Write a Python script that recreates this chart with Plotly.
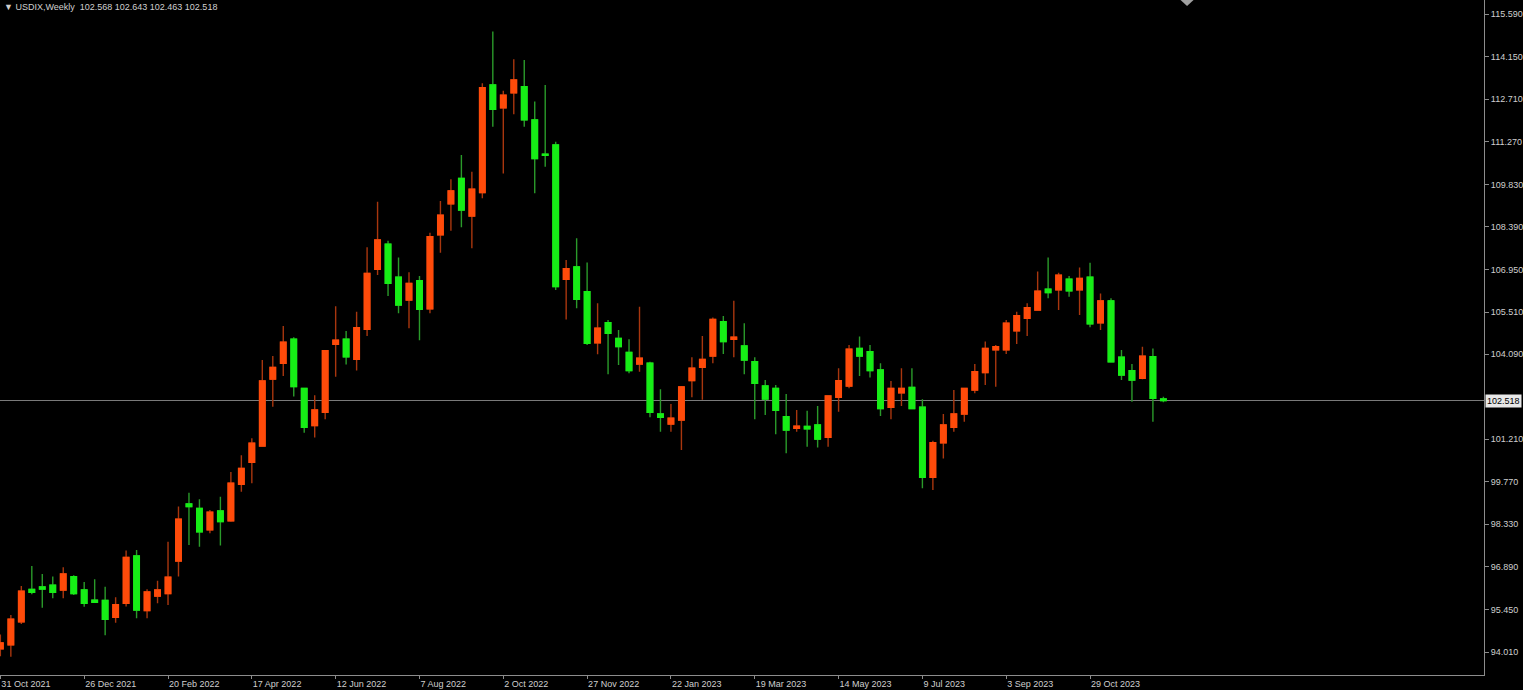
import plotly.graph_objects as go
import pandas as pd

# Weekly OHLC, USDIX (week starting 31 Oct 2021 ... 17 Dec 2023)
open_ = [94.12, 94.25, 95.03, 96.13, 96.21, 96.27, 96.11, 96.56, 96.11, 95.76,
         95.75, 95.18, 95.66, 97.26, 95.41, 95.90, 95.99, 97.09, 99.02, 98.87,
         98.14, 98.78, 98.45, 99.68, 100.43, 100.98, 103.24, 103.78, 104.59, 102.93,
         101.67, 102.12, 104.42, 104.59, 103.91, 104.93, 106.96, 107.81, 106.69, 105.92,
         106.57, 105.62, 108.12, 109.17, 110.03, 108.76, 109.55, 113.19, 112.42, 112.93,
         113.13, 112.01, 110.85, 111.16, 106.62, 107.04, 106.20, 104.47, 105.15, 104.62,
         104.14, 103.75, 103.78, 102.06, 101.72, 101.86, 103.19, 103.64, 104.02, 105.18,
         104.59, 104.36, 103.83, 103.01, 102.93, 101.97, 101.58, 101.64, 101.69, 101.27,
         102.63, 103.01, 104.28, 104.17, 103.55, 102.29, 102.78, 102.96, 102.29, 99.92,
         101.09, 101.61, 102.06, 102.87, 103.46, 104.23, 104.23, 104.88, 105.30, 105.58,
         106.28, 106.26, 106.62, 106.26, 106.69, 105.15, 105.89, 103.98, 103.53, 103.27,
         104.00, 102.568]
high = [94.60, 95.26, 96.24, 96.92, 96.65, 96.56, 96.88, 96.61, 96.38, 96.47,
        96.22, 95.86, 97.44, 97.46, 96.13, 96.42, 97.74, 98.93, 99.40, 99.18,
        98.81, 99.26, 100.10, 100.67, 101.24, 103.89, 104.02, 105.04, 104.66, 102.93,
        102.70, 104.23, 105.71, 104.87, 105.52, 107.70, 109.24, 107.92, 107.36, 106.86,
        106.73, 108.19, 109.27, 110.00, 110.82, 110.26, 113.25, 115.00, 113.00, 114.06,
        114.04, 112.63, 113.19, 111.27, 107.27, 108.01, 107.19, 105.81, 105.24, 104.90,
        104.59, 105.69, 103.83, 102.90, 102.40, 103.01, 103.98, 104.70, 105.33, 105.38,
        105.89, 105.13, 103.98, 103.21, 103.04, 102.74, 102.20, 102.17, 102.33, 102.70,
        103.61, 104.40, 104.68, 104.40, 103.78, 103.18, 103.61, 103.61, 102.56, 101.16,
        102.06, 102.87, 102.93, 103.75, 104.51, 104.40, 105.24, 105.52, 105.81, 106.88,
        107.36, 106.84, 106.73, 107.02, 107.18, 106.14, 105.98, 104.23, 103.75, 104.34,
        104.28, 102.643]
low = [93.87, 93.85, 94.96, 95.96, 95.51, 95.83, 95.83, 95.94, 95.54, 95.68,
       94.58, 95.00, 95.55, 95.15, 95.15, 95.66, 95.60, 96.56, 97.63, 97.57,
       98.03, 97.61, 98.42, 99.43, 99.72, 100.95, 102.31, 103.35, 102.65, 101.43,
       101.27, 101.88, 103.32, 103.74, 103.53, 104.70, 106.76, 106.05, 105.47, 104.96,
       104.56, 105.47, 107.52, 108.26, 108.38, 107.67, 109.36, 111.78, 110.20, 112.20,
       111.78, 109.53, 110.43, 106.26, 105.26, 105.64, 104.40, 104.08, 103.41, 103.72,
       103.44, 103.49, 101.95, 101.46, 101.46, 100.84, 102.63, 102.54, 103.78, 104.09,
       103.98, 103.41, 101.88, 102.03, 101.38, 100.73, 101.46, 100.95, 100.93, 100.95,
       102.14, 102.93, 103.35, 103.30, 101.99, 101.88, 102.33, 102.22, 99.55, 99.49,
       100.56, 101.46, 101.80, 102.76, 103.04, 102.98, 104.09, 104.43, 104.70, 105.56,
       105.98, 105.58, 106.03, 105.41, 105.00, 104.90, 103.80, 103.21, 102.48, 103.24,
       101.80, 102.463]
close = [94.32, 95.12, 96.07, 96.03, 96.14, 96.03, 96.65, 95.99, 95.66, 95.69,
         95.12, 95.61, 97.21, 95.43, 96.04, 96.11, 96.54, 98.50, 98.93, 98.08,
         98.74, 98.42, 99.72, 100.22, 101.07, 103.18, 103.64, 104.49, 102.99, 101.61,
         102.20, 104.20, 104.56, 104.00, 104.98, 106.82, 107.95, 106.48, 105.75, 106.48,
         105.60, 108.06, 108.79, 109.61, 108.96, 109.67, 113.10, 112.37, 112.85, 113.36,
         112.01, 110.70, 110.81, 106.37, 106.98, 105.94, 104.45, 104.96, 104.79, 104.34,
         103.53, 103.95, 102.12, 101.95, 101.92, 102.98, 103.61, 103.91, 105.26, 104.51,
         104.66, 103.89, 103.10, 102.57, 102.19, 101.52, 101.65, 101.56, 101.21, 102.67,
         103.19, 104.25, 104.02, 103.53, 102.25, 102.93, 102.93, 102.25, 99.92, 101.09,
         101.69, 102.06, 102.93, 103.49, 104.28, 104.34, 105.13, 105.39, 105.66, 106.22,
         106.17, 106.76, 106.23, 106.65, 105.11, 105.89, 103.83, 103.38, 103.21, 104.02,
         102.59, 102.518]

symbol = "USDIX,Weekly"
first_week = "2021-10-31"

date_tick_vals = ["2021-10-31", "2021-12-26", "2022-02-20", "2022-04-17", "2022-06-12",
                  "2022-08-07", "2022-10-02", "2022-11-27", "2023-01-22", "2023-03-19",
                  "2023-05-14", "2023-07-09", "2023-09-03", "2023-10-29"]
date_tick_text = ["31 Oct 2021", "26 Dec 2021", "20 Feb 2022", "17 Apr 2022", "12 Jun 2022",
                  "7 Aug 2022", "2 Oct 2022", "27 Nov 2022", "22 Jan 2023", "19 Mar 2023",
                  "14 May 2023", "9 Jul 2023", "3 Sep 2023", "29 Oct 2023"]
price_ticks = [94.01, 95.45, 96.89, 98.33, 99.77, 101.21, 104.09, 105.51,
               106.95, 108.39, 109.83, 111.27, 112.71, 114.15, 115.59]

UP = "#FF4B0A"
DN = "#16EE16"
UP_WICK = "#A8360E"
DN_WICK = "#2A9A2A"
FG = "#cfcfcf"
FRAME = "#8c8c8c"
FONT = "Liberation Sans"

dates = pd.date_range(first_week, periods=len(open_), freq="7D")
body_hi = [max(o, c) for o, c in zip(open_, close)]
body_lo = [min(o, c) for o, c in zip(open_, close)]

fig = go.Figure()
# wicks
fig.add_trace(go.Candlestick(
    x=dates, open=open_, high=high, low=low, close=close,
    increasing=dict(line=dict(color=UP_WICK, width=1.4), fillcolor=UP),
    decreasing=dict(line=dict(color=DN_WICK, width=1.4), fillcolor=DN),
    whiskerwidth=0, hoverinfo="skip", showlegend=False))
# bodies
fig.add_trace(go.Candlestick(
    x=dates, open=open_, high=body_hi, low=body_lo, close=close,
    increasing=dict(line=dict(color=UP, width=1.4), fillcolor=UP),
    decreasing=dict(line=dict(color=DN, width=1.4), fillcolor=DN),
    whiskerwidth=0, hoverinfo="skip", showlegend=False))

x0 = pd.Timestamp(first_week) - pd.Timedelta(hours=6)
x1 = pd.Timestamp(first_week) + pd.Timedelta(days=7 * 141.6)

last = close[-1]
fig.add_shape(type="line", xref="paper", x0=0, x1=1, yref="y", y0=last, y1=last,
              line=dict(color="#7a7a7a", width=1), layer="below")
fig.add_shape(type="path", xref="paper", yref="paper",
              path="M 0.7955 1 L 0.8043 1 L 0.7999 0.991 Z",
              fillcolor="#a0a0a0", line=dict(width=0))

fig.add_annotation(
    x=0, y=1, xref="paper", yref="paper", xanchor="left", yanchor="top",
    xshift=2, yshift=0, showarrow=False,
    text=f"▼ {symbol}  {open_[-1]:.3f} {high[-1]:.3f} {low[-1]:.3f} {close[-1]:.3f}",
    font=dict(family=FONT, size=9, color=FG))
fig.add_annotation(
    x=1, y=last, xref="paper", yref="y", xanchor="left", yanchor="middle",
    xshift=1, showarrow=False, text=f"{last:.3f}", bgcolor="#e8e8e8",
    borderpad=1, font=dict(family=FONT, size=9, color="#000000"))

fig.update_layout(
    width=1523, height=690,
    margin=dict(l=0, r=39, t=0, b=15),
    paper_bgcolor="#000000", plot_bgcolor="#000000",
    boxgap=0.25,
    showlegend=False,
    font=dict(family=FONT, size=9, color=FG),
    xaxis=dict(
        type="date", range=[x0, x1], rangeslider=dict(visible=False),
        tickvals=date_tick_vals, ticktext=date_tick_text,
        ticklabelposition="outside right",
        ticks="outside", ticklen=3, tickcolor=FRAME,
        showgrid=False, zeroline=False,
        showline=True, linecolor=FRAME, linewidth=1, mirror=True,
        tickfont=dict(family=FONT, size=9, color=FG)),
    yaxis=dict(
        side="right", range=[93.232, 116.067],
        tickvals=price_ticks, ticktext=[f"{v:.3f}" for v in price_ticks],
        ticks="outside", ticklen=4, tickcolor=FRAME,
        showgrid=False, zeroline=False,
        showline=True, linecolor=FRAME, linewidth=1, mirror=True,
        tickfont=dict(family=FONT, size=9, color=FG)),
)

fig.write_html(
    "out.html",
    config={"displayModeBar": False},
    post_script="document.body.style.margin='0';document.body.style.overflow='hidden';"
                "document.body.style.background='#000';")
